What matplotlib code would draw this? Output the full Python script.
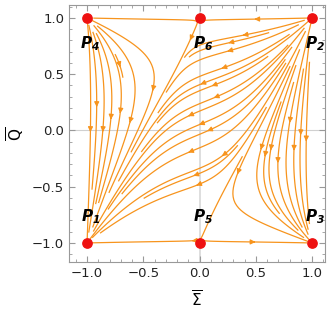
import matplotlib
matplotlib.use("Agg")
import matplotlib.pyplot as plt
import numpy as np

# fixed points of the flow
pt_names = ["P_1", "P_2", "P_3", "P_4", "P_5", "P_6"]
pt_sigma = [-1.0, 1.0, 1.0, -1.0, 0.0, 0.0]
pt_q = [-1.0, 1.0, -1.0, 1.0, -1.0, 1.0]
# label offset from the point (data units)
lab_dx = [0.03, 0.03, 0.03, 0.03, 0.03, 0.03]
lab_dy = [0.23, -0.23, 0.23, -0.23, 0.23, -0.23]

# flow coefficients
a_coef, c_coef, d_coef, e_coef = 1.0, 0.24, 0.1, 0.9

# seeds of the stream lines
seed_sigma = [-0.97, -0.92, -0.86, -0.80, -0.73, -0.64, -0.55, -0.45, -0.30,
              -0.12, 0.08, 0.28, 0.42, 0.52, 0.60, 0.67, 0.73, 0.79, 0.85,
              0.90, 0.95,
              -0.50, -0.25, 0.50, 0.20, -0.50, 0.40, 0.10,
              0.05, 0.20, 0.35, 0.50, 0.65, 0.15, 0.35, 0.55, 0.75,
              -0.70, 0.55, 0.80,
              -0.80, -0.60, -0.40, -0.20, 0.30, 0.60, 0.85]
seed_q = ([0.0] * 21 + [0.99, 0.97, 0.99, 0.97, -0.99, -0.99, -0.96]
          + [0.5] * 5 + [0.8] * 4 + [0.55] * 3 + [-0.55] * 7)

ticks = [-1.0, -0.5, 0.0, 0.5, 1.0]

plt.rcParams["mathtext.fontset"] = "custom"
plt.rcParams["mathtext.bf"] = "DejaVu Sans:bold:italic"

fig = plt.figure(figsize=(3.32, 3.15), dpi=100)
ax = fig.add_axes([0.208, 0.168, 0.771, 0.816])

s = np.linspace(-1, 1, 241)
q = np.linspace(-1, 1, 241)
S, Q = np.meshgrid(s, q)
U = (1 - S**2) * (-a_coef * Q * S - c_coef * (1 - Q**2))
V = -(1 - Q**2) * (d_coef + e_coef * S**2)

ax.axvline(0, color="#d8d8d8", lw=1.2, zorder=0)
ax.axhline(0, color="#d0d0d0", lw=0.8, zorder=0)

ax.streamplot(S, Q, U, V, start_points=np.column_stack([seed_sigma, seed_q]),
              density=2.4, color="#f7941d", linewidth=0.9, arrowsize=0.7,
              zorder=2)

ax.scatter(pt_sigma, pt_q, s=45, color="#ee1111", zorder=4, clip_on=False)
for name, x, y, dx, dy in zip(pt_names, pt_sigma, pt_q, lab_dx, lab_dy):
    ax.text(x + dx, y + dy, r"$\mathbf{%s}$" % name, fontsize=11,
            ha="center", va="center", zorder=5)

ax.set_xlim(-1.16, 1.115)
ax.set_ylim(-1.17, 1.115)
ax.set_xticks(ticks)
ax.set_yticks(ticks)
ax.set_xticks(np.arange(-1.1, 1.11, 0.1), minor=True)
ax.set_yticks(np.arange(-1.1, 1.11, 0.1), minor=True)
ax.tick_params(which="both", direction="in", top=True, right=True,
               color="#999999", labelsize=9.5, labelcolor="#222222")
ax.tick_params(which="major", length=4)
ax.tick_params(which="minor", length=2)
for sp in ax.spines.values():
    sp.set_color("#999999")

ax.set_xlabel(r"$\overline{\Sigma}$", fontsize=11, labelpad=7)
ax.set_ylabel(r"$\overline{\mathrm{Q}}$", fontsize=11, labelpad=4)

fig.savefig("out.png", dpi=100)
